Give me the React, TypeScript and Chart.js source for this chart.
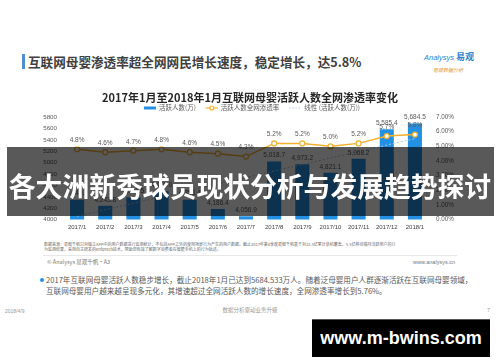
import React, { useEffect, useRef } from "react";
import { Chart, registerables } from "chart.js";

Chart.register(...registerables);

// ---- data ----
const months = [
  "2017/1", "2017/2", "2017/3", "2017/4", "2017/5", "2017/6", "2017/7",
  "2017/8", "2017/9", "2017/10", "2017/11", "2017/12", "2018/1",
];
const activeUsers = [
  4349.2, 4243.8, 4391.5, 4496.0, 4350.4, 4186.4, 4056.9,
  5018.7, 4973.2, 4821.1, 5068.2, 5585.4, 5684.5,
];
const penetrationRate = [4.8, 4.6, 4.7, 4.8, 4.6, 4.5, 4.3, 5.2, 5.2, 5.0, 5.2, 5.7, 5.8];
// linear trend line: only its two visible end points are read
const trendLine = [4060, null, null, null, null, null, null, null, null, null, null, null, 5420];
const leftTicks = [4000, 4200, 4400, 4600, 4800, 5000, 5200, 5400, 5600, 5800];
const rightTicks = [0, 1, 2, 3, 4, 5, 6, 7];
const legendLabels = ["活跃人数(万)", "活跃人数全网渗透率", "线性 (活跃人数(万))"];
const chartTitle = "2017年1月至2018年1月互联网母婴活跃人数全网渗透率变化";

const BAR = "#2490e3";
const LINE = "#f3b02f";
const TREND = "#aac6e2";
const NUM_FONT = "'Liberation Sans', Arial, sans-serif";
const CJK_FONT = "'Noto Sans CJK SC', sans-serif";

const fmtThousands = (v: number) =>
  v.toLocaleString("en-US", { minimumFractionDigits: 1, maximumFractionDigits: 1 });

const valueLabels = {
  id: "valueLabels",
  afterDatasetsDraw(chart: any) {
    const { ctx } = chart;
    ctx.save();
    ctx.font = `6.5px ${NUM_FONT}`;
    ctx.fillStyle = "#595959";
    ctx.textAlign = "center";
    ctx.textBaseline = "middle";
    chart.getDatasetMeta(0).data.forEach((el: any, i: number) => {
      ctx.fillText(fmtThousands(activeUsers[i]), el.x, el.y - 6);
    });
    chart.getDatasetMeta(1).data.forEach((el: any, i: number) => {
      ctx.fillText(penetrationRate[i].toFixed(1) + "%", el.x, el.y - 9);
    });
    ctx.restore();
  },
};

const customLegend = {
  id: "customLegend",
  afterDraw(chart: any) {
    const { ctx, chartArea } = chart;
    ctx.save();
    ctx.font = `6.5px ${CJK_FONT}`;
    const sym = 12;
    const gap = 3;
    const space = 10;
    const widths = legendLabels.map((t) => ctx.measureText(t).width);
    const total =
      widths.reduce((a, b) => a + b + sym + gap, 0) + space * (legendLabels.length - 1);
    let x = chart.width / 2 - total / 2 + 2;
    const y = chartArea.top - 9;
    legendLabels.forEach((t, i) => {
      if (i === 0) {
        ctx.fillStyle = BAR;
        ctx.fillRect(x, y - 1.5, sym, 3);
      } else if (i === 1) {
        ctx.strokeStyle = LINE;
        ctx.lineWidth = 1.2;
        ctx.beginPath();
        ctx.moveTo(x, y);
        ctx.lineTo(x + sym, y);
        ctx.stroke();
        ctx.beginPath();
        ctx.arc(x + sym / 2, y, 2, 0, Math.PI * 2);
        ctx.fillStyle = "#fff";
        ctx.fill();
        ctx.stroke();
      } else {
        ctx.strokeStyle = "#b9c9d8";
        ctx.lineWidth = 1;
        ctx.setLineDash([1.5, 1.5]);
        ctx.beginPath();
        ctx.moveTo(x, y);
        ctx.lineTo(x + sym, y);
        ctx.stroke();
        ctx.setLineDash([]);
      }
      ctx.fillStyle = "#595959";
      ctx.textAlign = "left";
      ctx.textBaseline = "middle";
      ctx.fillText(t, x + sym + gap, y);
      x += sym + gap + widths[i] + space;
    });
    ctx.restore();
  },
};

type TProps = {
  x: number;
  y: number;
  size: number;
  color?: string;
  weight?: number | string;
  align?: "left" | "center" | "right";
  family?: string;
  style?: React.CSSProperties;
  children: React.ReactNode;
};

function T({ x, y, size, color = "#595959", weight = 400, align = "left", family = CJK_FONT, style, children }: TProps) {
  const base: React.CSSProperties = {
    position: "absolute",
    top: y - size / 2,
    fontSize: size,
    lineHeight: `${size}px`,
    color,
    fontWeight: weight as any,
    fontFamily: family,
    whiteSpace: "nowrap",
    ...style,
  };
  if (align === "left") return <div style={{ ...base, left: x }}>{children}</div>;
  if (align === "right") return <div style={{ ...base, right: 500 - x, textAlign: "right" }}>{children}</div>;
  return <div style={{ ...base, left: x - 250, width: 500, textAlign: "center" }}>{children}</div>;
}

export default function App() {
  const ref = useRef<HTMLCanvasElement>(null);

  useEffect(() => {
    if (!ref.current) return;
    const chart = new Chart(ref.current, {
      type: "bar",
      data: {
        labels: months,
        datasets: [
          {
            type: "bar",
            label: legendLabels[0],
            data: activeUsers,
            backgroundColor: BAR,
            yAxisID: "y",
            categoryPercentage: 1,
            barPercentage: 0.5,
            order: 3,
          },
          {
            type: "line",
            label: legendLabels[1],
            data: penetrationRate,
            borderColor: LINE,
            backgroundColor: "#fff",
            borderWidth: 1.5,
            pointRadius: 2.5,
            pointBackgroundColor: "#fff",
            pointBorderColor: LINE,
            pointBorderWidth: 1.2,
            yAxisID: "y1",
            order: 1,
          },
          {
            type: "line",
            label: legendLabels[2],
            data: trendLine as any,
            borderColor: TREND,
            borderWidth: 1,
            borderDash: [2, 2],
            pointRadius: 0,
            spanGaps: true,
            yAxisID: "y",
            order: 2,
          },
        ],
      },
      options: {
        animation: false,
        responsive: false,
        layout: { padding: { left: 0, right: 0, top: 0, bottom: 2.4 } },
        plugins: {
          legend: { display: false },
          tooltip: { enabled: false },
          title: {
            display: true,
            text: chartTitle,
            color: "#262626",
            font: { size: 11, weight: "bold", family: CJK_FONT },
            padding: { top: 3, bottom: 12.8 },
          },
        },
        scales: {
          x: {
            grid: { display: false, drawTicks: false },
            border: { display: false },
            ticks: {
              color: "#404040",
              font: { size: 6, family: NUM_FONT },
              padding: 4.4,
              maxRotation: 0,
              autoSkip: false,
            },
          },
          y: {
            position: "left",
            min: leftTicks[0],
            max: leftTicks[leftTicks.length - 1],
            afterBuildTicks: (s: any) => {
              s.ticks = leftTicks.map((v) => ({ value: v }));
            },
            afterFit: (s: any) => {
              s.width = 63;
            },
            grid: { display: false, drawTicks: false },
            border: { display: false },
            ticks: {
              color: "#595959",
              font: { size: 6.2, family: NUM_FONT },
              padding: 6,
              callback: (v: any) => String(v),
            },
          },
          y1: {
            position: "right",
            min: rightTicks[0],
            max: rightTicks[rightTicks.length - 1],
            afterBuildTicks: (s: any) => {
              s.ticks = rightTicks.map((v) => ({ value: v }));
            },
            afterFit: (s: any) => {
              s.width = 71;
            },
            grid: { display: false, drawTicks: false },
            border: { display: false },
            ticks: {
              color: "#595959",
              font: { size: 6.3, family: NUM_FONT },
              padding: 7,
              callback: (v: any) => Number(v).toFixed(2) + "%",
            },
          },
        },
      },
      plugins: [valueLabels, customLegend],
    });
    return () => chart.destroy();
  }, []);

  return (
    <div
      style={{
        position: "absolute",
        left: 0,
        top: 0,
        width: 500,
        height: 362,
        background: "#fff",
        overflow: "hidden",
        fontFamily: CJK_FONT,
      }}
    >
      {/* page heading */}
      <div style={{ position: "absolute", left: 22, top: 54, width: 2.5, height: 15, background: "#4f8fcf" }} />
      <T x={28} y={62} size={12.6} color="#404040" weight={700}>
        互联网母婴渗透率超全网网民增长速度，稳定增长，达5.8%
      </T>
      {/* logo */}
      <T x={424} y={57} size={7.5} color="#2a7fce" family={NUM_FONT} style={{ fontStyle: "italic" }}>
        Analysys <span style={{ fontFamily: CJK_FONT, fontStyle: "normal", fontWeight: 700, fontSize: 9 }}>易观</span>
      </T>
      <T x={433} y={69} size={5} color="#e8963a" style={{ fontStyle: "italic" }}>
        易观数据分析
      </T>

      {/* chart */}
      <canvas
        ref={ref}
        width={500}
        height={150}
        style={{ position: "absolute", left: 0, top: 88, width: 500, height: 150 }}
      />

      {/* source notes */}
      <T x={44} y={244} size={4} color="#666">
        数据来源：易观千帆只对独立APP中的用户数据进行监测统计，不包括APP之外的使用场景行为产生的用户数据。截止2017年第4季度易观千帆基于对22.5亿累计装机覆盖，5.5亿移动端月活跃用户的行
      </T>
      <T x={44} y={249} size={4} color="#666">
        为监测结果，采用自主研发的enfoTech技术，帮助您有效了解数字消费者在智能手机上的行为轨迹。
      </T>
      <div style={{ position: "absolute", left: 43, top: 255, width: 414, height: 1, background: "#e8e8e8" }} />
      <T x={47} y={262.5} size={5.5} color="#777">
        © Analysys 易观千帆·A3
      </T>
      <T x={455} y={262.5} size={5.5} color="#777" align="right" family={NUM_FONT}>
        www.analysys.cn
      </T>

      {/* bullet text */}
      <div
        style={{ position: "absolute", left: 39.5, top: 278, width: 4, height: 4, borderRadius: 2, background: BAR }}
      />
      <T x={46} y={280} size={7.6} color="#595959">
        2017年互联网母婴活跃人数稳步增长，截止2018年1月已达到5684.533万人。随着泛母婴用户人群逐渐活跃在互联网母婴领域，
      </T>
      <T x={46} y={291} size={7.6} color="#595959">
        互联网母婴用户越来越呈现多元化，其增速超过全网活跃人数的增长速度，全网渗透率增长到5.76%。
      </T>

      {/* footer */}
      <T x={5} y={311} size={5} color="#999" family={NUM_FONT}>
        2018/4/9
      </T>
      <T x={250} y={311} size={5.5} color="#999" align="center">
        数据分析驱动业务升级
      </T>
      <T x={490} y={311} size={5.5} color="#999" align="right" family={NUM_FONT}>
        7
      </T>

      {/* overlay banner */}
      <div
        style={{
          position: "absolute",
          left: 7,
          top: 147,
          width: 487,
          height: 69,
          background: "rgba(0,0,0,0.65)",
        }}
      />
      <T x={250} y={186} size={26.8} color="#ffffff" weight={700} align="center">
        各大洲新秀球员现状分析与发展趋势探讨
      </T>

      {/* watermark box */}
      <div
        style={{
          position: "absolute",
          left: 312,
          top: 319,
          width: 178,
          height: 38,
          background: "#000",
          borderTop: "1.5px solid #555",
          boxSizing: "border-box",
        }}
      />
      <T x={401} y={338} size={18} color="#fff" weight={700} align="center" family={NUM_FONT}>
        www.m-bwins.com
      </T>
    </div>
  );
}
